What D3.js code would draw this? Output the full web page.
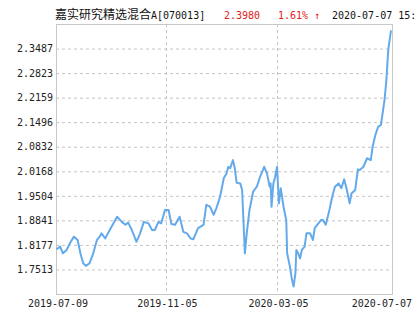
<!DOCTYPE html>
<html>
<head>
<meta charset="utf-8">
<script src="https://cdn.jsdelivr.net/npm/d3@7"></script>
<style>
  body { margin: 0; background: #fff; }
  svg { display: block; }
</style>
</head>
<body>
<div id="chart"></div>
<script>
// ######################## Data #############################################
const fundName = "嘉实研究精选混合A"
const fundCode = "[070013]"
const lastNav = "2.3980"
const lastChange = "1.61% ↑"
const lastTime = "2020-07-07 15:00"

const navDates = [
  "2019-07-09", "2019-07-13", "2019-07-16", "2019-07-20", "2019-07-24", "2019-07-28",
  "2019-08-01", "2019-08-04", "2019-08-07", "2019-08-10", "2019-08-14", "2019-08-18",
  "2019-08-22", "2019-08-25", "2019-08-27", "2019-08-31", "2019-09-03", "2019-09-09",
  "2019-09-13", "2019-09-18", "2019-09-22", "2019-09-25", "2019-09-29", "2019-10-04",
  "2019-10-08", "2019-10-12", "2019-10-17", "2019-10-21", "2019-10-24", "2019-10-28",
  "2019-10-31", "2019-11-04", "2019-11-08", "2019-11-11", "2019-11-15", "2019-11-20",
  "2019-11-24", "2019-11-28", "2019-12-02", "2019-12-05", "2019-12-10", "2019-12-16",
  "2019-12-19", "2019-12-23", "2019-12-27", "2019-12-30", "2020-01-03", "2020-01-07",
  "2020-01-10", "2020-01-12", "2020-01-14", "2020-01-17", "2020-01-19", "2020-01-21",
  "2020-01-25", "2020-01-27", "2020-01-30", "2020-02-01", "2020-02-04", "2020-02-08",
  "2020-02-12", "2020-02-15", "2020-02-20", "2020-02-23", "2020-02-26", "2020-02-27",
  "2020-02-28", "2020-03-01", "2020-03-03", "2020-03-05", "2020-03-07", "2020-03-09",
  "2020-03-12", "2020-03-15", "2020-03-16", "2020-03-19", "2020-03-21", "2020-03-23",
  "2020-03-25", "2020-03-26", "2020-03-28", "2020-03-30", "2020-04-01", "2020-04-04",
  "2020-04-06", "2020-04-10", "2020-04-13", "2020-04-15", "2020-04-19", "2020-04-22",
  "2020-04-24", "2020-04-27", "2020-05-01", "2020-05-04", "2020-05-07", "2020-05-11",
  "2020-05-14", "2020-05-17", "2020-05-20", "2020-05-23", "2020-05-25", "2020-05-29",
  "2020-06-01", "2020-06-03", "2020-06-07", "2020-06-11", "2020-06-15", "2020-06-17",
  "2020-06-20", "2020-06-23", "2020-06-26", "2020-06-30", "2020-07-02", "2020-07-04",
  "2020-07-07"
]

const navValues = [
  1.806, 1.813, 1.795, 1.804, 1.824, 1.840,
  1.831, 1.795, 1.768, 1.761, 1.768, 1.795,
  1.831, 1.840, 1.849, 1.835, 1.849, 1.876,
  1.894, 1.880, 1.872, 1.878, 1.858, 1.826,
  1.849, 1.880, 1.876, 1.858, 1.858, 1.880,
  1.876, 1.912, 1.912, 1.874, 1.872, 1.894,
  1.853, 1.849, 1.835, 1.833, 1.863, 1.872,
  1.926, 1.921, 1.899, 1.917, 1.948, 1.998,
  2.011, 2.029, 2.025, 2.047, 2.025, 1.986,
  1.984, 1.966, 1.795, 1.849, 1.912, 1.962,
  1.975, 1.998, 2.029, 2.011, 1.975, 1.984,
  1.921, 1.984, 2.002, 2.029, 1.930, 1.971,
  1.921, 1.885, 1.795, 1.759, 1.727, 1.705,
  1.741, 1.804, 1.795, 1.781, 1.804, 1.813,
  1.849, 1.849, 1.831, 1.863, 1.876, 1.885,
  1.885, 1.872, 1.912, 1.948, 1.975, 1.984,
  1.971, 1.995, 1.966, 1.930, 1.957, 1.966,
  2.022, 2.020, 2.029, 2.052, 2.047, 2.083,
  2.115, 2.137, 2.142, 2.210, 2.264, 2.345,
  2.398
]

const yTicks = [1.7513, 1.8177, 1.8841, 1.9504, 2.0168, 2.0832, 2.1496, 2.2159, 2.2823, 2.3487]
const xTicks = ["2019-07-09", "2019-11-05", "2020-03-05", "2020-07-07"]

// ######################## Chart ############################################
const parseDate = d3.timeParse("%Y-%m-%d")
const data = navDates.map((d, i) => ({ date: parseDate(d), nav: navValues[i] }))

const W = 415, H = 330
const plot = { left: 56, top: 24, right: 392, bottom: 294 }
const mono = "'DejaVu Sans Mono', 'Liberation Mono', monospace"

const svg = d3.select("#chart").append("svg")
  .attr("width", W)
  .attr("height", H)

const x = d3.scaleTime()
  .domain([parseDate(xTicks[0]), parseDate(xTicks[xTicks.length - 1])])
  .range([plot.left + 0.5, plot.right - 1])

const y = d3.scaleLinear()
  .domain([1.6849, 2.4151])
  .range([plot.bottom, plot.top])

// horizontal grid + y labels
const yAxis = svg.append("g")
  .attr("transform", `translate(${plot.left},0)`)
  .call(d3.axisLeft(y)
    .tickValues(yTicks)
    .tickFormat(d3.format(".4f"))
    .tickSizeInner(-(plot.right - plot.left))
    .tickSizeOuter(0)
    .tickPadding(3))
yAxis.select(".domain").remove()
yAxis.selectAll("line")
  .attr("stroke", "#c4c4c4")
  .attr("stroke-dasharray", "3,3")
yAxis.selectAll("text")
  .attr("font-family", mono)
  .attr("font-size", 10)
  .attr("fill", "#222")

// vertical grid + x labels
const inner = xTicks.slice(1, -1).map(parseDate)
svg.append("g").selectAll("line")
  .data(inner)
  .join("line")
  .attr("x1", d => Math.round(x(d)) + 0.5)
  .attr("x2", d => Math.round(x(d)) + 0.5)
  .attr("y1", plot.top)
  .attr("y2", plot.bottom)
  .attr("stroke", "#c4c4c4")
  .attr("stroke-dasharray", "3,3")

svg.append("g").selectAll("text")
  .data(xTicks.map(parseDate))
  .join("text")
  .attr("x", (d, i) => i === xTicks.length - 1 ? W - 3 : x(d) + 1.5)
  .attr("y", plot.bottom + 13)
  .attr("text-anchor", (d, i) => i === xTicks.length - 1 ? "end" : "middle")
  .attr("font-family", mono)
  .attr("font-size", 10)
  .attr("fill", "#222")
  .text(d3.timeFormat("%Y-%m-%d"))

// frame
svg.append("rect")
  .attr("x", plot.left + 0.5)
  .attr("y", plot.top + 0.5)
  .attr("width", plot.right - plot.left)
  .attr("height", plot.bottom - plot.top)
  .attr("fill", "none")
  .attr("stroke", "#c8c8c8")

// nav line
const line = d3.line()
  .x(d => x(d.date))
  .y(d => y(d.nav))

svg.append("path")
  .datum(data)
  .attr("fill", "none")
  .attr("stroke", "#64aaea")
  .attr("stroke-width", 2)
  .attr("stroke-linejoin", "round")
  .attr("d", line)

// title
const title = svg.append("g").attr("transform", "translate(0,19)")
title.append("text")
  .attr("x", 55)
  .attr("font-family", "'Noto Sans CJK SC', sans-serif")
  .attr("font-size", 12)
  .attr("fill", "#111")
  .text(fundName.slice(0, -1))
title.append("text")
  .attr("x", 151)
  .attr("font-family", mono)
  .attr("font-size", 10)
  .attr("fill", "#111")
  .text(fundName.slice(-1) + fundCode)
title.append("text")
  .attr("x", 224)
  .attr("font-family", mono)
  .attr("font-size", 10)
  .attr("fill", "#e02020")
  .text(lastNav)
title.append("text")
  .attr("x", 278)
  .attr("font-family", mono)
  .attr("font-size", 10)
  .attr("fill", "#e02020")
  .text(lastChange)
title.append("text")
  .attr("x", 332)
  .attr("font-family", mono)
  .attr("font-size", 10)
  .attr("fill", "#111")
  .text(lastTime)
</script>
</body>
</html>
